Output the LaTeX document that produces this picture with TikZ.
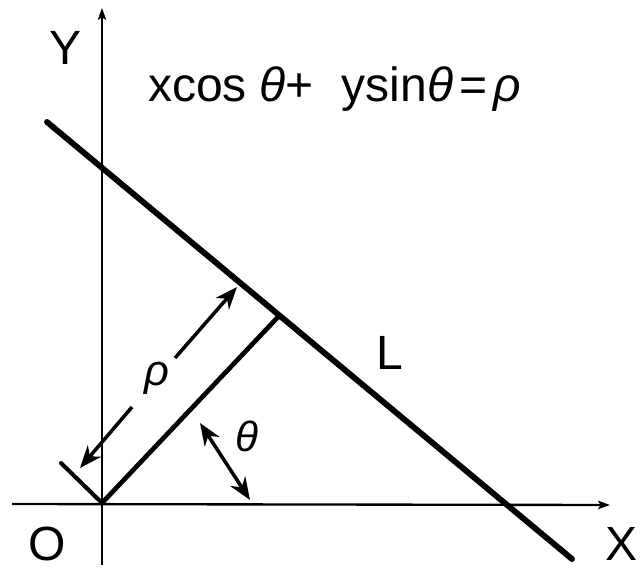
\documentclass[tikz,border=0pt]{standalone}
\usepackage{fontspec}
\setmainfont{Liberation Sans}
\usetikzlibrary{positioning,calc,arrows.meta}

\begin{document}
\begin{tikzpicture}[
	x=0.03cm, y=-0.03cm,
	axis/.style={line width=2pt, -{Stealth[length=10pt,width=7pt,inset=2pt]}},
	heavy/.style={line width=5pt, line cap=round},
	normal/.style={line width=4pt, line cap=round},
	dimarrow/.style={line width=3pt, -{Stealth[length=19pt,width=15pt,inset=6pt]}},
	lbl/.style={inner sep=0pt, font=\fontsize{41}{41}\selectfont}
	]
	\useasboundingbox (0,0) rectangle (641,569);
	% points
	\coordinate (O) at (102,503);
	\coordinate (xstart) at (12,504);
	\coordinate (xend) at (610,505);
	\coordinate (ystart) at (102,565);
	\coordinate (yend) at (102,8);
	\coordinate (Lstart) at (47,122);
	\coordinate (Lend) at (572,559);
	\coordinate (foot) at (278,317);
	\coordinate (tick) at (61,463);
	\coordinate (rhoa) at (80,468);
	\coordinate (rhob) at (132,407);
	\coordinate (rhoc) at (175,358);
	\coordinate (rhod) at (237,287);
	\coordinate (tha) at (200,423);
	\coordinate (thb) at (250,500);
	
	% axes
	\draw[axis] (xstart) -- (xend);
	\draw[axis] (ystart) -- (yend);
	
	% line L and the normal
	\draw[heavy] (Lstart) -- (Lend);
	\draw[normal] (O) -- (foot);
	\draw[normal, line width=3.5pt] (tick) -- (O);
	
	% rho and theta arrows
	\draw[dimarrow] (rhob) -- (rhoa);
	\draw[dimarrow] (rhoc) -- (rhod);
	\draw[dimarrow, {Stealth[length=19pt,width=15pt,inset=6pt]}-{Stealth[length=19pt,width=15pt,inset=6pt]}] (tha) -- (thb);
	
	% labels
	\node[lbl] (ylabel) at (66,48) {Y};
	\node[lbl] (xlabel) at (622,544) {X};
	\node[lbl] (olabel) at (47,544) {O};
	\node[lbl] (llabel) at (390,353) {L};
	\node[lbl, font=\fontsize{37}{37}\selectfont\itshape] (rholabel) at (157,378) {ρ};
	\node[lbl, font=\fontsize{36}{36}\selectfont\itshape] (thetalabel) at (247,436) {θ};
	\node[lbl, anchor=base west, font=\fontsize{41}{41}\selectfont] (eq) at (148,102)
		{xcos\hspace{0.25em}\textit{θ}+\hspace{0.6em}ysin\textit{θ}\hspace{0.12em}=\hspace{0.12em}\textit{ρ}};
\end{tikzpicture}
\end{document}
